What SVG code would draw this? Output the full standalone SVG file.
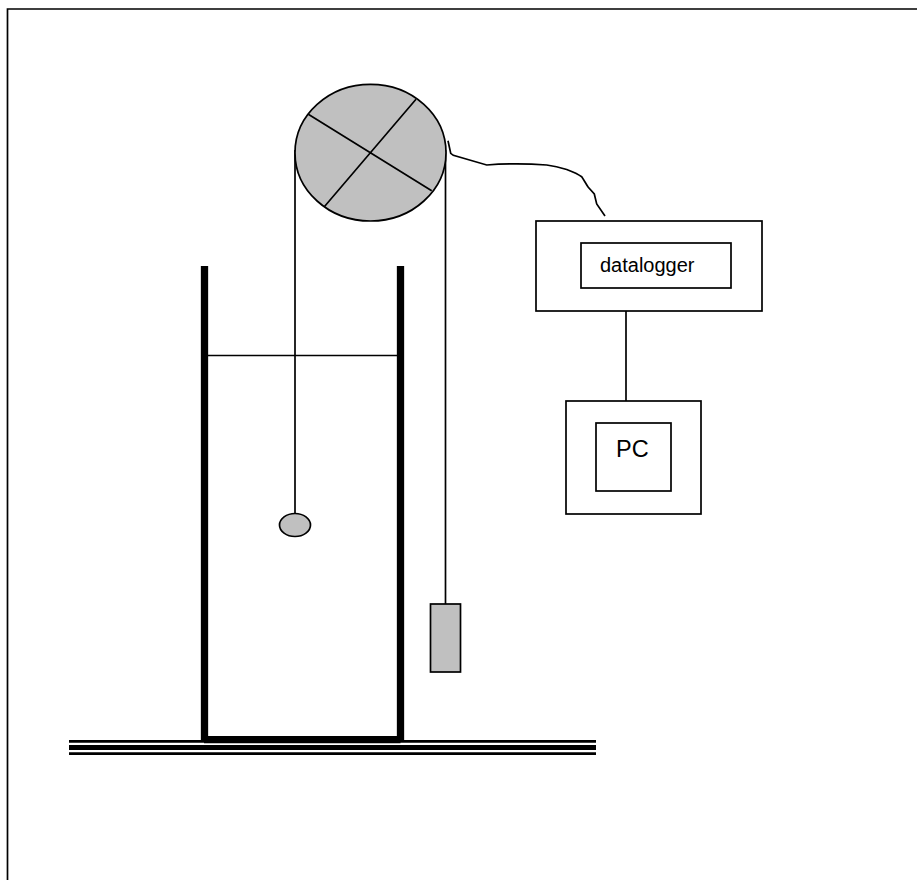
<svg xmlns="http://www.w3.org/2000/svg" width="917" height="880" viewBox="0 0 917 880">
<style>
.l{fill:none;stroke:#000;stroke-width:1.7}
.b{fill:#fff;stroke:#000;stroke-width:1.7}
.g{fill:#c0c0c0;stroke:#000;stroke-width:1.7}
.w{fill:none;stroke:#000;stroke-width:7.300}
.f{fill:none;stroke:#000}
text{font-family:"Liberation Sans",Arial,sans-serif;fill:#000}
</style>
<rect width="917" height="880" fill="#fff"/>
<path id="frame" class="l" d="M7.500 880V9H917"/>
<g id="ground">
<path class="f" stroke-width="2.700" d="M69 741.300H596"/>
<path class="f" stroke-width="5" d="M69 747.500H596"/>
<path class="f" stroke-width="2.700" d="M69 753.700H596"/>
</g>
<g id="connectors">
<path class="l" d="M295 150V514"/>
<path class="l" d="M445.500 150V604"/>
<path class="l" d="M448 140.700L450.700 153.300L453.300 155.300L486.700 165C500 164 520 163 546.700 165C555 166 562 168 566.700 169.500C572 171.500 578 174 581.700 176.700C584 180 586 184 588.300 187.300L594.300 194L596.700 204L605 216"/>
<path class="l" d="M626 311V401"/>
<path class="l" d="M205.500 355.500H397"/>
</g>
<g id="tank">
<path class="w" d="M204.500 266V742M400.500 266V742M204 739.700H400.500"/>
</g>
<g id="pulley">
<ellipse class="g" cx="370.500" cy="152.700" rx="75.500" ry="68.300"/>
<path class="l" d="M308.300 114.300L431.700 190.700M416 99.300L324.300 206.700"/>
</g>
<g id="float"><ellipse class="g" cx="295" cy="525" rx="15.500" ry="11.500"/></g>
<g id="counterweight"><rect class="g" x="430.500" y="604" width="30" height="68"/></g>
<g id="datalogger-box">
<rect class="b" x="536" y="221" width="226" height="90"/>
<rect class="b" x="581" y="243" width="150" height="45"/>
<text x="600" y="272" font-size="20">datalogger</text>
</g>
<g id="pc-box">
<rect class="b" x="566" y="401" width="135" height="113"/>
<rect class="b" x="596" y="423" width="75" height="68"/>
<text x="616" y="457" font-size="23.500">PC</text>
</g>
</svg>
